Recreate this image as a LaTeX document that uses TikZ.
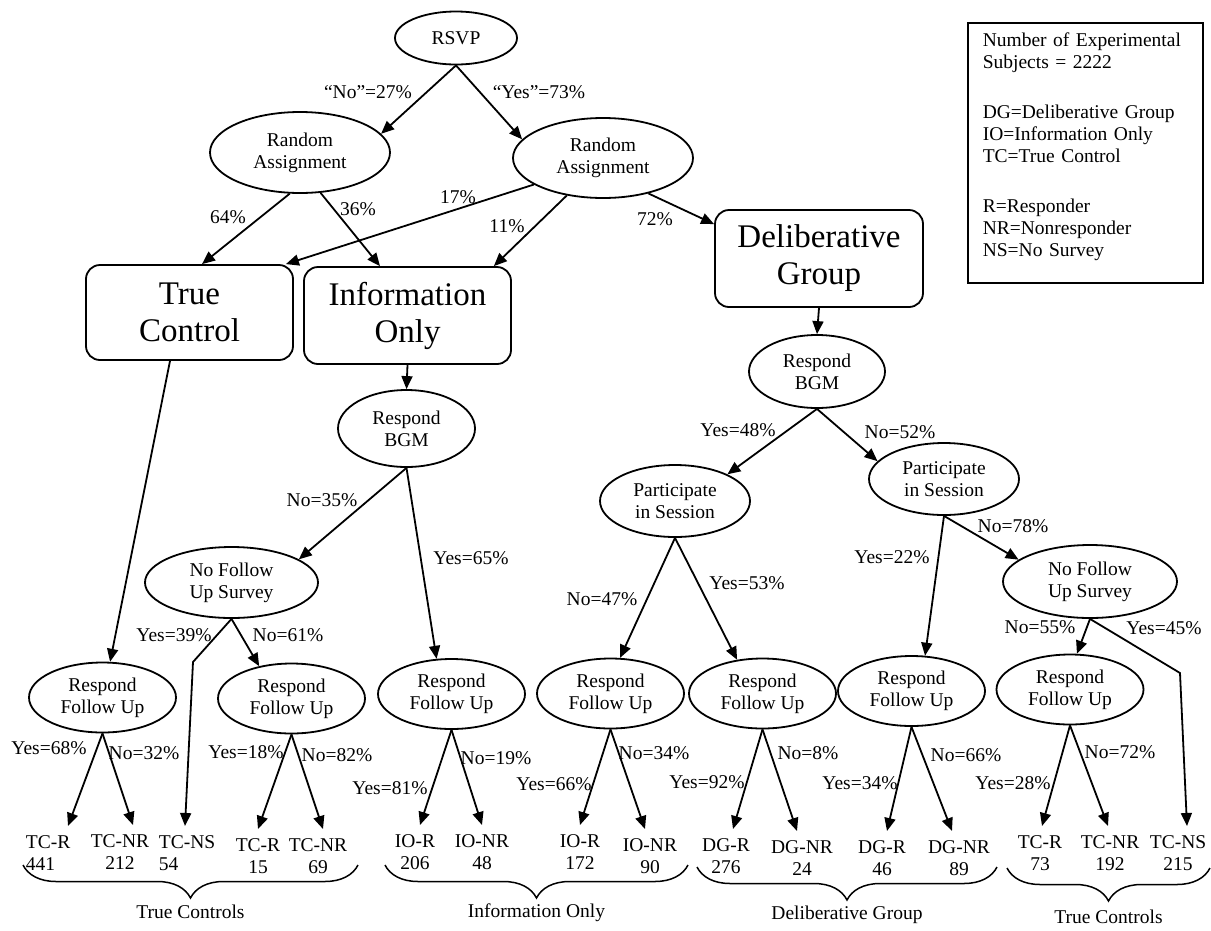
\documentclass[tikz,border=0pt]{standalone}
\usepackage{fontspec}
\setmainfont{Liberation Serif}
\usetikzlibrary{positioning,shapes.geometric,arrows.meta,decorations.pathreplacing,calc}

\begin{document}
\begin{tikzpicture}[x=1pt, y=-1pt, line width=1.8pt,
  font=\fontsize{19.5}{22}\selectfont,
  oval/.style={ellipse, draw, inner sep=0pt, align=center},
  rfu/.style={oval, minimum width=147pt, minimum height=70pt},
  bigbox/.style={draw, rounded corners=14pt, align=center,
    font=\fontsize{33}{37}\selectfont},
  arrowto/.style={-{Triangle[length=13pt,width=11pt]}},
  leaf/.style={anchor=north, align=center, inner xsep=2pt, inner ysep=9pt},
  groupbrace/.style={decorate, decoration={brace, mirror, amplitude=33pt},
    line width=1.5pt}]

  \useasboundingbox (0,0) rectangle (1211,930);

  % === Top of the tree ===
  \node[oval, minimum width=122pt, minimum height=53pt] (rsvp) at (456,38) {RSVP};
  \node[oval, minimum width=180pt, minimum height=81pt] (ral) at (300,152.5) {Random\\Assignment};
  \node[oval, minimum width=180pt, minimum height=80pt] (rar) at (603,158) {Random\\Assignment};

  % === Treatment groups ===
  \node[bigbox, minimum width=207pt, minimum height=95pt] (tc) at (189.5,312.5) {True\\Control};
  \node[bigbox, minimum width=207pt, minimum height=97pt] (io) at (407.5,315.5) {Information\\Only};
  \node[bigbox, minimum width=208pt, minimum height=97pt] (dg) at (819,258.5) {Deliberative\\Group};

  % === Intermediate steps ===
  \node[oval, minimum width=137pt, minimum height=77pt] (bgmio) at (406.5,428.5) {Respond\\BGM};
  \node[oval, minimum width=136pt, minimum height=73pt] (bgmdg) at (817,371.5) {Respond\\BGM};
  \node[oval, minimum width=150pt, minimum height=72pt] (psl) at (675,501) {Participate\\in Session};
  \node[oval, minimum width=150pt, minimum height=72pt] (psr) at (944,479) {Participate\\in Session};
  \node[oval, minimum width=173pt, minimum height=71pt] (nfio) at (231.5,582.5) {No Follow\\Up Survey};
  \node[oval, minimum width=174pt, minimum height=73pt] (nfdg) at (1090,581.5) {No Follow\\Up Survey};

  \node[rfu] (rfu1) at (102.5,697.5) {Respond\\Follow Up};
  \node[rfu] (rfu2) at (291.5,698.5) {Respond\\Follow Up};
  \node[rfu] (rfu3) at (451.5,694)   {Respond\\Follow Up};
  \node[rfu] (rfu4) at (610.5,693.5) {Respond\\Follow Up};
  \node[rfu] (rfu5) at (762.5,693.5) {Respond\\Follow Up};
  \node[rfu] (rfu6) at (911.5,691)   {Respond\\Follow Up};
  \node[rfu] (rfu7) at (1070,689.5)  {Respond\\Follow Up};

  % === Final counts ===
  \node[leaf, anchor=north west, align=left] (l1) at (23,826) {TC-R\\441};
  \node[leaf] (l2) at (120,825) {TC-NR\\212};
  \node[leaf, anchor=north west, align=left] (l3) at (156,826) {TC-NS\\54};
  \node[leaf] (l4) at (258,829) {TC-R\\15};
  \node[leaf] (l5) at (318,829) {TC-NR\\69};
  \node[leaf] (l6) at (415,825) {IO-R\\206};
  \node[leaf] (l7) at (482,825) {IO-NR\\48};
  \node[leaf] (l8) at (580,825) {IO-R\\172};
  \node[leaf] (l9) at (650,829) {IO-NR\\90};
  \node[leaf] (l10) at (726,829) {DG-R\\276};
  \node[leaf] (l11) at (802,831) {DG-NR\\24};
  \node[leaf] (l12) at (882,831) {DG-R\\46};
  \node[leaf] (l13) at (959,831) {DG-NR\\89};
  \node[leaf] (l14) at (1040,826) {TC-R\\73};
  \node[leaf] (l15) at (1110,826) {TC-NR\\192};
  \node[leaf] (l16) at (1178,826) {TC-NS\\215};

  % bends of the no-survey lines
  \coordinate (nsio) at (193,662);
  \coordinate (nsdg) at (1180,673);

  % === Connectors ===
  \draw[arrowto] (rsvp.south) -- (ral.13);
  \draw[arrowto] (rsvp.south) -- (rar.167);
  \draw[arrowto] (ral.256) -- ([xshift=12.5pt]tc.north);
  \draw[arrowto] (ral.297) -- ([xshift=-27.5pt]io.north);
  \draw[arrowto] (rar.201) -- ([xshift=-8pt]tc.north east);
  \draw[arrowto] (rar.226) -- ([xshift=-18pt]io.north east);
  \draw[arrowto] (rar.322) -- ([yshift=-15pt]dg.north west);

  \draw[arrowto] (io.south) -- (bgmio.north);
  \draw[arrowto] (dg.south) -- (bgmdg.north);
  \draw[arrowto] ([xshift=-19.5pt]tc.south) -- (rfu1.78);

  \draw[arrowto] (bgmio.south) -- (nfio.19);
  \draw[arrowto] (bgmio.south) -- (rfu3.113);
  \draw[arrowto] (nfio.south) -- (rfu2.135);
  \draw[arrowto] (nfio.south) -- (nsio) -- ([xshift=29pt]l3.north west);

  \draw[arrowto] (bgmdg.south) -- (psl.27);
  \draw[arrowto] (bgmdg.south) -- (psr.165);
  \draw[arrowto] (psl.south) -- (rfu4.75);
  \draw[arrowto] (psl.south) -- (rfu5.127);
  \draw[arrowto] (psr.south) -- (rfu6.69);
  \draw[arrowto] (psr.south) -- (nfdg.163);
  \draw[arrowto] (nfdg.south) -- (rfu7.79);
  \draw[arrowto] (nfdg.south) -- (nsdg) -- ([xshift=9pt]l16.north);

  \draw[arrowto] (rfu1.south) -- ([xshift=45pt]l1.north west);
  \draw[arrowto] (rfu1.south) -- ([xshift=13pt]l2.north);
  \draw[arrowto] (rfu2.south) -- (l4.north);
  \draw[arrowto] (rfu2.south) -- ([xshift=5pt]l5.north);
  \draw[arrowto] (rfu3.south) -- ([xshift=5pt]l6.north);
  \draw[arrowto] (rfu3.south) -- (l7.north);
  \draw[arrowto] (rfu4.south) -- (l8.north);
  \draw[arrowto] (rfu4.south) -- ([xshift=-5pt]l9.north);
  \draw[arrowto] (rfu5.south) -- ([xshift=7pt]l10.north);
  \draw[arrowto] (rfu5.south) -- ([xshift=-5pt]l11.north);
  \draw[arrowto] (rfu6.south) -- ([xshift=5pt]l12.north);
  \draw[arrowto] (rfu6.south) -- ([xshift=-7pt]l13.north);
  \draw[arrowto] (rfu7.south) -- ([xshift=2pt]l14.north);
  \draw[arrowto] (rfu7.south) -- ([xshift=-2pt]l15.north);

  % === Branch labels ===
  \node (lno27)  at (368,92)  {“No”=27\%};
  \node (lyes73) at (539,92)  {“Yes”=73\%};
  \node (l64)    at (228,217) {64\%};
  \node (l36)    at (358,209) {36\%};
  \node (l17)    at (458,197) {17\%};
  \node (l11p)   at (507,226) {11\%};
  \node (l72)    at (655,219) {72\%};

  \node (lno35)  at (322,500) {No=35\%};
  \node (lyes65) at (471,558) {Yes=65\%};
  \node (lyes39) at (174,635) {Yes=39\%};
  \node (lno61)  at (288,635) {No=61\%};
  \node (lyes68) at (49,748)  {Yes=68\%};
  \node (lno32)  at (144,753) {No=32\%};
  \node (lyes18) at (246,752) {Yes=18\%};
  \node (lno82)  at (337,755) {No=82\%};
  \node (lyes81) at (390,788) {Yes=81\%};
  \node (lno19)  at (496,758) {No=19\%};

  \node (lyes48) at (738,430) {Yes=48\%};
  \node (lno52)  at (900,432) {No=52\%};
  \node (lno47)  at (602,599) {No=47\%};
  \node (lyes53) at (747,583) {Yes=53\%};
  \node (lyes22) at (892,557) {Yes=22\%};
  \node (lno78)  at (1013,526) {No=78\%};
  \node (lno55)  at (1040,627) {No=55\%};
  \node (lyes45) at (1164,628) {Yes=45\%};
  \node (lyes66) at (554,784) {Yes=66\%};
  \node (lno34)  at (654,753) {No=34\%};
  \node (lyes92) at (707,782) {Yes=92\%};
  \node (lno8)   at (808,753) {No=8\%};
  \node (lyes34) at (860,783) {Yes=34\%};
  \node (lno66)  at (966,755) {No=66\%};
  \node (lyes28) at (1013,783) {Yes=28\%};
  \node (lno72)  at (1120,752) {No=72\%};

  % === Braces ===
  \draw[groupbrace] (23,865) -- (358,865)
    node[midway, yshift=-47pt] (btc1) {True Controls};
  \draw[groupbrace] (385,865) -- (688,865)
    node[midway, yshift=-48pt] (bio) {Information Only};
  \draw[groupbrace] (697,867) -- (997,867)
    node[midway, yshift=-48pt] (bdg) {Deliberative Group};
  \draw[groupbrace] (1007,868) -- (1210,868)
    node[midway, yshift=-49pt] (btc2) {True Controls};

  % === Legend ===
  \node[draw, anchor=north west, minimum width=235pt, minimum height=260pt,
    text width=205pt, align=left, inner xsep=15pt, inner ysep=0pt, line width=1.5pt]
    (legend) at (967,22)
    {Number of Experimental\\Subjects = 2222\\[28pt]
     DG=Deliberative Group\\IO=Information Only\\TC=True Control\\[28pt]
     R=Responder\\NR=Nonresponder\\NS=No Survey\\[-6pt]\mbox{}};

\end{tikzpicture}
\end{document}
